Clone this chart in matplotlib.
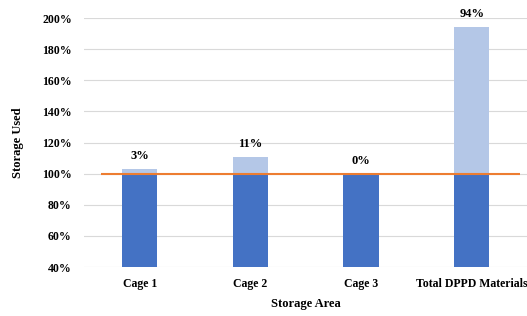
import numpy as np
import matplotlib
matplotlib.use("Agg")
import matplotlib.pyplot as plt

plt.rcParams['font.family'] = ['Liberation Serif', 'DejaVu Serif']
plt.rcParams['font.weight'] = 'bold'

areas = ['Cage 1', 'Cage 2', 'Cage 3', 'Total DPPD Materials']
base = [1.00, 1.00, 1.00, 1.00]        # capacity (100%)
over = [0.03, 0.11, 0.00, 0.94]        # overage above capacity
over_labels = ['3%', '11%', '0%', '94%']
y_ticks = [0.4, 0.6, 0.8, 1.0, 1.2, 1.4, 1.6, 1.8, 2.0]

fig = plt.figure(figsize=(5.27, 3.16), dpi=100)
ax = fig.add_axes([0.16, 0.155, 0.84, 0.788])

x = np.arange(len(areas))
ax.bar(x, np.array(base) - 0.4, bottom=0.4, width=0.32, color='#4472C4', zorder=2)
ax.bar(x, over, bottom=base, width=0.32, color='#B4C7E7', zorder=2)
ax.hlines(1.0, -0.35, 3.44, color='#ED7D31', lw=1.5, zorder=3)

for i in range(len(areas)):
    ax.text(x[i], base[i] + over[i] + 0.045, over_labels[i], ha='center', va='bottom',
            fontsize=9, fontweight='bold')

ax.set_xlim(-0.5, 3.5)
ax.set_ylim(0.4, 2.0)
ax.set_yticks(y_ticks)
ax.set_yticklabels(['%d%%' % round(v * 100) for v in y_ticks], fontsize=8.5, fontweight='bold')
ax.set_xticks(x)
ax.set_xticklabels(areas, fontsize=8.5, fontweight='bold')
ax.tick_params(length=0, pad=9)
ax.tick_params(axis='x', pad=8)
ax.grid(axis='y', color='#d9d9d9', lw=0.8, zorder=0)
for s in ax.spines.values():
    s.set_visible(False)

ax.set_ylabel('Storage Used', fontsize=9, fontweight='bold', labelpad=13)
ax.set_xlabel('Storage Area', fontsize=9, fontweight='bold', labelpad=6)

fig.savefig('out.png', dpi=100)
